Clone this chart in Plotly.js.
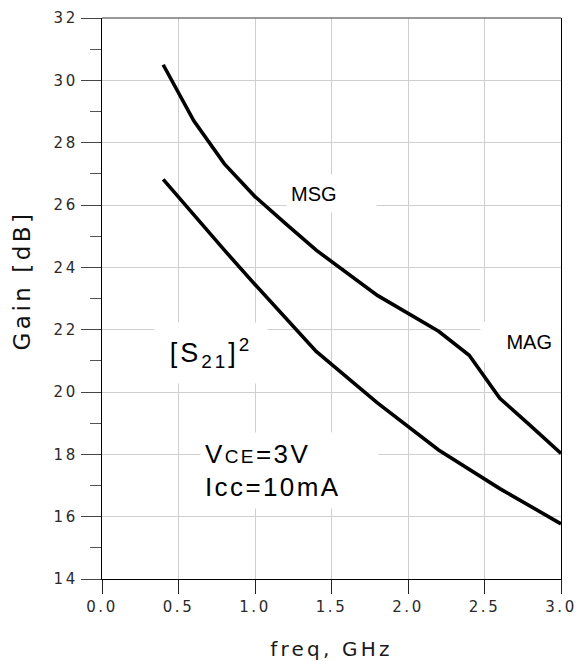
<!DOCTYPE html>
<html><head><meta charset="utf-8">
<script src="https://cdn.plot.ly/plotly-3.0.1.min.js"></script>
<style>
html,body{margin:0;padding:0;background:#fff;}
#chart{width:580px;height:661px;}
.xtick text,.ytick text{letter-spacing:2.5px;}
.xtitle{letter-spacing:3.2px;}
.ytitle{letter-spacing:3.5px;}
.g-ytitle{transform:translateY(-18px);}
.annotation[data-index="2"] text{letter-spacing:3px;}
.annotation[data-index="3"] text{letter-spacing:2.4px;}
</style></head><body><div id="chart"></div>
<script>
// Data
const freqMSG = [0.4, 0.6, 0.8, 1.0, 1.2, 1.4, 1.8, 2.2, 2.4, 2.6, 2.8, 3.0];
const gainMSG = [30.5, 28.7, 27.32, 26.27, 25.4, 24.55, 23.1, 21.95, 21.18, 19.8, 18.92, 18.03];
const freqS21 = [0.4, 0.6, 0.8, 1.0, 1.2, 1.4, 1.8, 2.2, 2.6, 3.0];
const gainS21 = [26.82, 25.68, 24.55, 23.45, 22.36, 21.3, 19.65, 18.14, 16.9, 15.77];
const xTicks = [0.0, 0.5, 1.0, 1.5, 2.0, 2.5, 3.0];
const yTicks = [14, 16, 18, 20, 22, 24, 26, 28, 30, 32];

const lineStyle = {color: '#000', width: 3.6};
const traces = [
  {x: freqMSG, y: gainMSG, mode: 'lines', line: lineStyle, name: 'MSG/MAG', showlegend: false, hoverinfo: 'skip'},
  {x: freqS21, y: gainS21, mode: 'lines', line: lineStyle, name: '|S21|^2', showlegend: false, hoverinfo: 'skip'}
];

const tickFont = {family: 'DejaVu Sans', size: 15, color: '#2a2a2a'};
const annFont = {family: 'Liberation Sans, Arial', color: '#000'};

const layout = {
  width: 580, height: 661,
  margin: {l: 102, r: 19, t: 18, b: 82, pad: 0},
  paper_bgcolor: '#fff', plot_bgcolor: '#fff',
  showlegend: false,
  xaxis: {
    range: [0, 3], tickvals: xTicks, ticktext: xTicks.map(v => v.toFixed(1)),
    ticks: 'outside', ticklen: 14, tickwidth: 1, tickcolor: '#222',
    showgrid: true, gridcolor: '#cfcfcf', gridwidth: 1,
    showline: true, linecolor: '#000', linewidth: 1.3, mirror: false,
    zeroline: false, tickfont: tickFont,
    title: {text: 'freq, GHz', font: {family: 'DejaVu Sans', size: 20, color: '#1a1a1a'}, standoff: 32}
  },
  yaxis: {
    range: [14, 32], tickvals: yTicks, ticktext: yTicks.map(String),
    ticks: 'outside', ticklen: 20, tickwidth: 1, tickcolor: '#444',
    minor: {dtick: 1, tick0: 14, ticks: 'outside', ticklen: 11, tickwidth: 1, tickcolor: '#555', showgrid: false},
    showgrid: true, gridcolor: '#cfcfcf', gridwidth: 1,
    showline: true, linecolor: '#000', linewidth: 1.3, mirror: true,
    zeroline: false, tickfont: tickFont,
    title: {text: 'Gain [dB]', font: {family: 'DejaVu Sans', size: 23, color: '#111'}, standoff: 16}
  },
  shapes: [
    {type: 'line', xref: 'paper', yref: 'paper', x0: 0, x1: 1, y0: 1, y1: 1, line: {color: '#777', width: 1.3}}
  ],
  annotations: [
    {x: 1.503, y: 26.37, xref: 'x', yref: 'y', text: 'MSG', showarrow: false,
     font: Object.assign({size: 20}, annFont), bgcolor: '#fff', width: 81, height: 29, borderpad: 4, align: 'left'},
    {x: 2.737, y: 21.6, xref: 'x', yref: 'y', text: 'MAG', showarrow: false,
     font: Object.assign({size: 20}, annFont), bgcolor: '#fff', width: 63, height: 24, borderpad: 8, align: 'right'},
    {x: 0.714, y: 21.25, xref: 'x', yref: 'y', text: '[S<sub>21</sub>]<sup>2</sup>', showarrow: false,
     font: Object.assign({size: 27}, annFont), bgcolor: '#fff', width: 104, height: 52, borderpad: 4, align: 'center'},
    {x: 1.227, y: 17.48, xref: 'x', yref: 'y', text: 'V<span style="font-size:19px">CE</span>=3V<br>Icc=10mA', showarrow: false,
     font: Object.assign({size: 26}, annFont), bgcolor: '#fff', width: 169, height: 67, borderpad: 4, align: 'left'}
  ]
};

Plotly.newPlot('chart', traces, layout, {staticPlot: true, displayModeBar: false});
</script>
</body></html>
